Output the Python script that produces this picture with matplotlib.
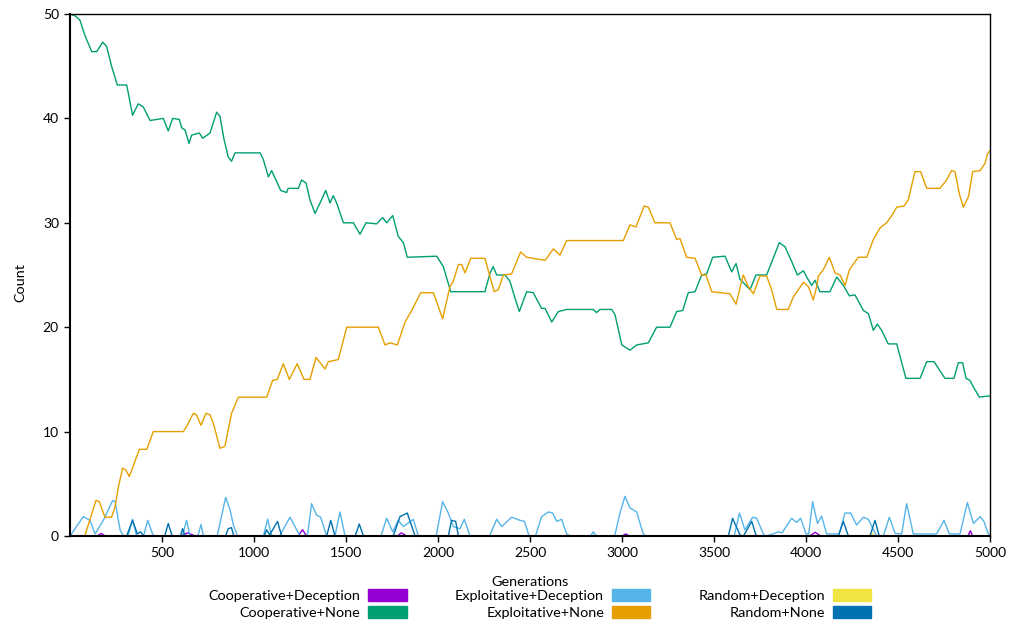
import matplotlib
matplotlib.use("Agg")
import matplotlib.pyplot as plt
from matplotlib.patches import Patch

plt.rcParams['font.family'] = ['Lato', 'DejaVu Sans']

# ---------------- data ----------------
coop_none_gen = [0, 30, 54, 82, 118, 145, 178, 199, 226, 257, 308, 317, 340, 371, 398, 435, 507, 534, 558, 594,
                 607, 625, 647, 661, 703, 721, 761, 797, 815, 837, 860, 878, 897, 1033, 1050, 1078, 1096, 1114,
                 1145, 1177, 1186, 1241, 1259, 1283, 1304, 1332, 1359, 1390, 1413, 1431, 1449, 1486, 1540, 1576,
                 1609, 1667, 1699, 1721, 1754, 1784, 1812, 1833, 1993, 2029, 2069, 2255, 2283, 2300, 2319, 2364,
                 2391, 2418, 2442, 2482, 2518, 2563, 2582, 2618, 2654, 2699, 2844, 2862, 2880, 2944, 2962, 2999,
                 3043, 3080, 3143, 3188, 3261, 3297, 3330, 3360, 3397, 3433, 3460, 3493, 3560, 3596, 3620, 3641,
                 3696, 3728, 3786, 3855, 3886, 3922, 3953, 3986, 4007, 4031, 4049, 4076, 4130, 4167, 4203, 4236,
                 4266, 4312, 4339, 4366, 4388, 4411, 4447, 4493, 4543, 4620, 4656, 4696, 4755, 4804, 4828, 4851,
                 4870, 4891, 4909, 4942, 4986, 5000]
coop_none_val = [50.0, 49.8, 49.4, 47.9, 46.4, 46.4, 47.3, 46.9, 45.0, 43.2, 43.2, 42.4, 40.3, 41.4, 41.1, 39.8,
                 40.0, 38.8, 40.0, 39.9, 39.1, 38.9, 37.6, 38.4, 38.6, 38.1, 38.6, 40.6, 40.2, 38.0, 36.3, 35.9,
                 36.7, 36.7, 36.1, 34.4, 35.0, 34.3, 33.1, 32.9, 33.3, 33.3, 34.1, 33.8, 32.2, 30.9, 31.9, 33.1,
                 31.9, 32.6, 31.9, 30.0, 30.0, 28.9, 30.0, 29.9, 30.5, 30.0, 30.7, 28.7, 28.1, 26.7, 26.8, 25.8,
                 23.4, 23.4, 25.2, 25.8, 25.0, 25.0, 24.4, 22.8, 21.5, 23.4, 23.3, 21.8, 21.8, 20.5, 21.5, 21.7,
                 21.7, 21.4, 21.7, 21.7, 21.2, 18.3, 17.8, 18.3, 18.5, 20.0, 20.0, 21.5, 21.6, 23.3, 23.4, 25.0,
                 25.1, 26.7, 26.8, 25.3, 26.1, 24.6, 23.6, 25.0, 25.0, 28.1, 27.7, 26.3, 25.0, 25.4, 24.7, 24.0,
                 24.5, 23.4, 23.4, 24.8, 24.0, 23.0, 23.1, 21.6, 21.3, 19.7, 20.3, 19.7, 18.4, 18.4, 15.1, 15.1,
                 16.7, 16.7, 15.1, 15.1, 16.6, 16.6, 15.1, 14.9, 14.3, 13.3, 13.4, 13.4]

expl_none_gen = [0, 72, 82, 141, 159, 190, 226, 245, 263, 286, 304, 322, 335, 377, 417, 453, 616, 634, 670, 688,
                 712, 739, 761, 779, 815, 842, 878, 915, 1069, 1101, 1127, 1159, 1192, 1235, 1272, 1304, 1337,
                 1386, 1404, 1458, 1504, 1676, 1712, 1739, 1779, 1821, 1857, 1906, 1975, 2025, 2065, 2083, 2111,
                 2129, 2147, 2178, 2255, 2283, 2306, 2328, 2355, 2400, 2449, 2482, 2582, 2627, 2663, 2699, 3007,
                 3043, 3076, 3120, 3143, 3179, 3261, 3297, 3315, 3351, 3397, 3433, 3457, 3487, 3587, 3620, 3650,
                 3659, 3686, 3714, 3750, 3786, 3813, 3841, 3904, 3931, 3986, 4013, 4040, 4058, 4067, 4094, 4127,
                 4158, 4185, 4212, 4236, 4284, 4330, 4366, 4402, 4438, 4474, 4493, 4533, 4556, 4592, 4623, 4656,
                 4728, 4764, 4791, 4810, 4833, 4855, 4883, 4906, 4946, 4973, 4986, 5000]
expl_none_val = [0.0, 0.0, 0.1, 3.4, 3.3, 1.8, 1.8, 2.8, 4.7, 6.5, 6.3, 5.7, 6.3, 8.3, 8.3, 10.0, 10.0, 10.5,
                 11.75, 11.6, 10.6, 11.75, 11.6, 10.8, 8.4, 8.6, 11.75, 13.3, 13.3, 14.9, 15.0, 16.5, 15.0, 16.5,
                 15.0, 15.0, 17.1, 16.0, 16.7, 16.9, 20.0, 20.0, 18.3, 18.5, 18.3, 20.5, 21.6, 23.3, 23.3, 20.8,
                 23.9, 24.4, 26.0, 26.0, 25.2, 26.6, 26.6, 24.8, 23.4, 23.6, 25.0, 25.1, 27.2, 26.7, 26.4, 27.5,
                 26.9, 28.3, 28.3, 29.8, 29.6, 31.6, 31.5, 30.0, 30.0, 28.4, 28.5, 26.7, 26.6, 25.0, 25.0, 23.4,
                 23.2, 22.2, 24.4, 25.0, 23.9, 23.2, 24.9, 24.9, 23.6, 21.7, 21.7, 22.9, 24.3, 23.9, 22.6, 23.9,
                 24.9, 25.5, 26.7, 25.2, 25.0, 24.0, 25.5, 26.7, 26.7, 28.4, 29.5, 30.0, 30.9, 31.5, 31.6, 32.2,
                 34.9, 34.9, 33.3, 33.3, 34.1, 35.0, 34.9, 32.8, 31.5, 32.5, 34.9, 35.0, 35.7, 36.6, 36.9]

expl_dec_gen = [0, 72, 109, 136, 181, 232, 245, 272, 290, 315, 340, 362, 400, 422, 453, 610, 634, 652, 695, 712,
                725, 800, 846, 870, 888, 910, 1051, 1074, 1096, 1140, 1170, 1196, 1223, 1250, 1290, 1313, 1340,
                1362, 1395, 1440, 1467, 1495, 1690, 1721, 1754, 1784, 1812, 1866, 1893, 1990, 2025, 2056, 2083,
                2120, 2143, 2174, 2280, 2319, 2346, 2400, 2446, 2470, 2495, 2530, 2563, 2599, 2623, 2645, 2672,
                2699, 2720, 2830, 2844, 2860, 2960, 2989, 3016, 3043, 3080, 3098, 3116, 3130, 3610, 3638, 3668,
                3710, 3732, 3768, 3780, 3822, 3849, 3870, 3922, 3949, 3971, 4000, 4015, 4036, 4062, 4085, 4112,
                4180, 4212, 4243, 4275, 4312, 4339, 4366, 4385, 4420, 4453, 4484, 4520, 4547, 4583, 4710, 4750,
                4779, 4837, 4877, 4910, 4946, 4967, 4991, 5000]
expl_dec_val = [0.0, 1.85, 1.5, 0.2, 1.5, 3.4, 3.3, 0.6, 0.0, 0.0, 1.6, 0.0, 0.0, 1.5, 0.0, 0.0, 1.5, 0.0, 0.0,
                1.1, 0.0, 0.0, 3.7, 2.5, 1.05, 0.0, 0.0, 1.6, 0.0, 0.0, 1.0, 1.8, 0.9, 0.0, 0.0, 3.1, 2.0, 1.8,
                0.0, 0.0, 2.3, 0.0, 0.0, 1.7, 0.4, 1.5, 0.9, 1.6, 0.0, 0.0, 3.3, 2.2, 0.9, 0.7, 1.6, 0.0, 0.0,
                1.6, 0.9, 1.8, 1.5, 1.4, 0.0, 0.0, 1.85, 2.3, 2.2, 1.4, 1.6, 0.2, 0.0, 0.0, 0.4, 0.0, 0.0, 2.2,
                3.8, 2.7, 2.3, 1.2, 0.2, 0.0, 0.0, 2.2, 0.6, 1.8, 1.7, 0.2, 0.0, 0.2, 0.4, 0.3, 1.7, 1.3, 1.7,
                0.2, 0.2, 3.3, 1.2, 1.9, 0.2, 0.2, 2.2, 2.2, 1.05, 1.8, 1.6, 0.6, 0.0, 0.0, 1.8, 0.25, 0.2, 3.1,
                0.2, 0.2, 1.5, 0.2, 0.2, 3.2, 1.2, 1.85, 1.4, 0.2, 0.0]

rand_none_gen = [0, 308, 340, 366, 384, 400, 515, 534, 555, 600, 612, 625, 845, 860, 878, 890, 1055, 1069, 1085,
                 1128, 1150, 1395, 1417, 1440, 1550, 1572, 1595, 1757, 1793, 1833, 1862, 1875, 2056, 2074, 2096,
                 2111, 3578, 3601, 3641, 3660, 3705, 3728, 3740, 4176, 4203, 4230, 4348, 4375, 4398, 5000]
rand_none_val = [0.0, 0.0, 1.5, 0.2, 0.4, 0.0, 0.0, 1.2, 0.0, 0.0, 0.7, 0.0, 0.0, 0.7, 0.8, 0.0, 0.0, 0.6, 0.1,
                 1.4, 0.0, 0.0, 1.5, 0.0, 0.0, 1.15, 0.0, 0.0, 1.85, 2.2, 0.7, 0.0, 0.0, 1.5, 1.4, 0.0, 0.0, 1.7,
                 0.1, 0.0, 1.4, 0.1, 0.0, 0.0, 1.4, 0.0, 0.0, 1.5, 0.0, 0.0]

coop_dec_gen = [0, 150, 170, 190, 600, 640, 680, 1240, 1264, 1285, 1780, 1800, 1830, 3000, 3020, 3040, 4020,
                4050, 4080, 4880, 4893, 4905, 5000]
coop_dec_val = [0.0, 0.0, 0.25, 0.0, 0.0, 0.3, 0.0, 0.0, 0.6, 0.0, 0.0, 0.3, 0.0, 0.0, 0.2, 0.0, 0.0, 0.35, 0.0,
                0.0, 0.5, 0.0, 0.0]

rand_dec_gen = [0, 4340, 4357, 4375, 5000]
rand_dec_val = [0.0, 0.0, 0.3, 0.0, 0.0]

series_labels = ["Cooperative+Deception", "Cooperative+None", "Exploitative+Deception",
                 "Exploitative+None", "Random+Deception", "Random+None"]
series_colors = ["#9400d3", "#009e73", "#56b4e9", "#e69f00", "#f0e442", "#0072b2"]

x_ticks = [500, 1000, 1500, 2000, 2500, 3000, 3500, 4000, 4500, 5000]
y_ticks = [0, 10, 20, 30, 40, 50]

# ---------------- plot ----------------
fig = plt.figure(figsize=(10.24, 6.25), dpi=100)
ax = fig.add_axes([70 / 1024, 1 - 536 / 625, 920 / 1024, 522 / 625])

data = [(coop_dec_gen, coop_dec_val), (coop_none_gen, coop_none_val), (expl_dec_gen, expl_dec_val),
        (expl_none_gen, expl_none_val), (rand_dec_gen, rand_dec_val), (rand_none_gen, rand_none_val)]
for (g, v), c in zip(data, series_colors):
    ax.plot(g, v, color=c, lw=1.0, solid_joinstyle='round')

ax.set_xlim(0, 5000)
ax.set_ylim(0, 50)
ax.set_xticks(x_ticks)
ax.set_yticks(y_ticks)
ax.tick_params(direction='out', length=4, width=1, labelsize=10, colors='black', pad=4)
for s in ['left', 'bottom']:
    ax.spines[s].set_linewidth(1.5)
for s in ['top', 'right']:
    ax.spines[s].set_linewidth(1.0)
ax.set_xlabel("Generations", fontsize=10.4, va='center')
ax.xaxis.set_label_coords((530 - 70) / 920, (536 - 582) / 522)
ax.set_ylabel("Count", fontsize=10.4, va='center')
ax.yaxis.set_label_coords((20 - 70) / 920, (536 - 283) / 522)

handles = [Patch(facecolor=c, edgecolor=c) for c in series_colors]
fig.legend(handles, series_labels, ncol=3, loc='upper center', bbox_to_anchor=(540 / 1024, 1 - 589 / 625),
           frameon=False, markerfirst=False, fontsize=10.4, handlelength=2.65, handleheight=0.9,
           labelspacing=0.3, columnspacing=3.35, handletextpad=0.55, borderaxespad=0, borderpad=0)

fig.savefig("out.png", dpi=100)
